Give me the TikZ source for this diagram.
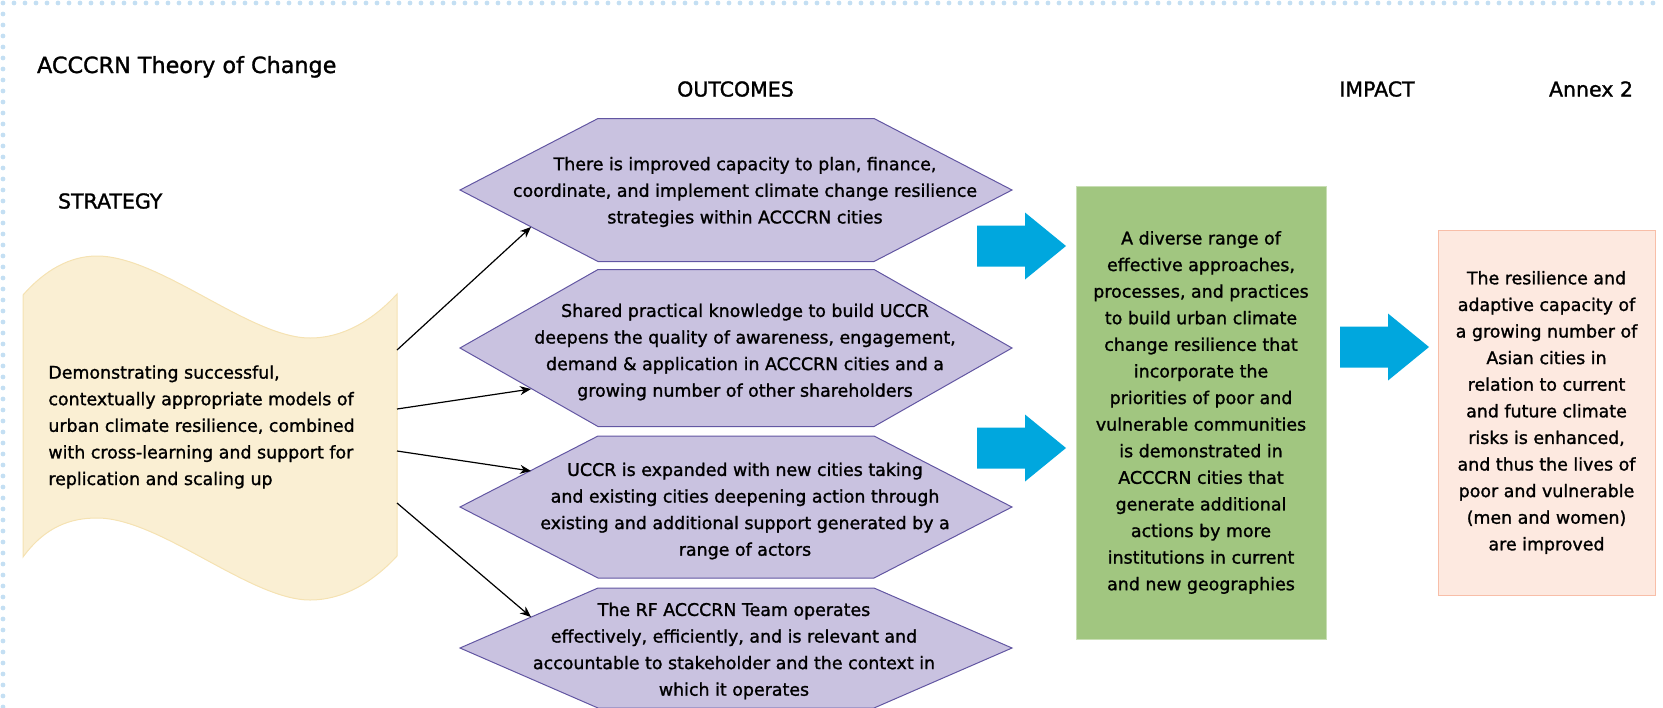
\documentclass[tikz,border=0pt]{standalone}
\usepackage{fontspec}
\setmainfont{DejaVu Sans}[FakeBold=1.3]
\usetikzlibrary{arrows.meta,calc}

\definecolor{dotblue}{RGB}{196,223,243}
\definecolor{flagfill}{RGB}{250,239,211}
\definecolor{flagline}{RGB}{245,226,178}
\definecolor{hexfill}{RGB}{201,194,224}
\definecolor{hexline}{RGB}{98,86,162}
\definecolor{arrowblue}{RGB}{0,167,222}
\definecolor{impactgreen}{RGB}{161,198,128}
\definecolor{impactline}{RGB}{200,222,180}
\definecolor{annexfill}{RGB}{253,233,224}
\definecolor{annexline}{RGB}{248,190,168}

\newcommand{\bodyfont}{\fontsize{8.7}{13.3}\selectfont}
\newcommand{\headfont}{\fontsize{10.25}{12}\selectfont}

\begin{document}
\begin{tikzpicture}[x=0.5pt,y=-0.5pt,
  head/.style={anchor=base,font=\headfont},
  txt/.style={align=center,font=\bodyfont,inner sep=0pt},
  outcome/.style={fill=hexfill,draw=hexline,line width=0.5pt},
  link/.style={-{Stealth[length=5.5pt,width=4.5pt]},line width=0.6pt}]
\useasboundingbox (0,0) rectangle (1663,707);

% dotted frame
\draw[dotblue,line width=2.4pt,line cap=round,dash pattern=on 0pt off 5.5pt] (3,707) -- (3,3) -- (1663,3);

% headings
\node[anchor=base west,font=\fontsize{11.15}{13}\selectfont] (title) at (30,73) {ACCCRN Theory of Change};
\node[head,anchor=base west] (strategy) at (51,208.5) {STRATEGY};
\node[head] (outcomes) at (735.5,96.5) {OUTCOMES};
\node[head] (impact) at (1377,96.5) {IMPACT};
\node[head] (annex) at (1591,96.5) {Annex 2};

% strategy flag
\draw[fill=flagfill,draw=flagline,line width=0.5pt]
  (23,295) .. controls (45,270) and (70,256) .. (97,256)
  .. controls (160,256) and (250,338) .. (310,338)
  .. controls (345,338) and (375,318) .. (397,294)
  -- (397,556)
  .. controls (375,580) and (345,600) .. (310,600)
  .. controls (250,600) and (160,518) .. (97,518)
  .. controls (70,518) and (45,527) .. (23,557) -- cycle;
\node[txt,align=left,anchor=west] (strat) at (48,427) {Demonstrating successful,\\contextually appropriate models of\\urban climate resilience, combined\\with cross-learning and support for\\replication and scaling up};

% outcome hexagons
\foreach \cy/\h in {190/71.5, 348/78.5, 507/71, 648/60}
  \draw[outcome] (460,\cy) -- (598,\cy-\h) -- (874,\cy-\h) -- (1012,\cy) -- (874,\cy+\h) -- (598,\cy+\h) -- cycle;

\node[txt] (out1) at (745,192) {There is improved capacity to plan, finance,\\coordinate, and implement climate change resilience\\strategies within ACCCRN cities};
\node[txt] (out2) at (745,352) {Shared practical knowledge to build UCCR\\deepens the quality of awareness, engagement,\\demand \& application in ACCCRN cities and a\\growing number of other shareholders};
\node[txt] (out3) at (745,511) {UCCR is expanded with new cities taking\\and existing cities deepening action through\\existing and additional support generated by a\\range of actors};
\node[txt] (out4) at (734,651) {The RF ACCCRN Team operates\\effectively, efficiently, and is relevant and\\accountable to stakeholder and the context in\\which it operates};

% strategy to outcomes
\foreach \i/\ys/\yt in {1/350/227, 2/409/389, 3/451/471, 4/503/617} {
  \coordinate (s\i) at (397,\ys);
  \coordinate (t\i) at (531,\yt);
  \draw[link] (s\i) -- (t\i);
}

% block arrows
\foreach \x/\y in {977/246, 977/448, 1340/347}
  \fill[arrowblue] (\x,\y-20.5) -- ++(48,0) -- ++(0,-13) -- ++(41,33.5) -- ++(-41,33.5) -- ++(0,-13) -- ++(-48,0) -- cycle;

% impact and annex boxes
\node[txt,fill=impactgreen,draw=impactline,line width=0.5pt,minimum width=125pt,minimum height=226.5pt] (result) at (1201,412.5) {A diverse range of\\effective approaches,\\processes, and practices\\to build urban climate\\change resilience that\\incorporate the\\priorities of poor and\\vulnerable communities\\is demonstrated in\\ACCCRN cities that\\generate additional\\actions by more\\institutions in current\\and new geographies};
\node[txt,fill=annexfill,draw=annexline,line width=0.5pt,minimum width=108.5pt,minimum height=182.5pt] (goal) at (1546.5,412.5) {The resilience and\\adaptive capacity of\\a growing number of\\Asian cities in\\relation to current\\and future climate\\risks is enhanced,\\and thus the lives of\\poor and vulnerable\\(men and women)\\are improved};

\end{tikzpicture}
\end{document}
